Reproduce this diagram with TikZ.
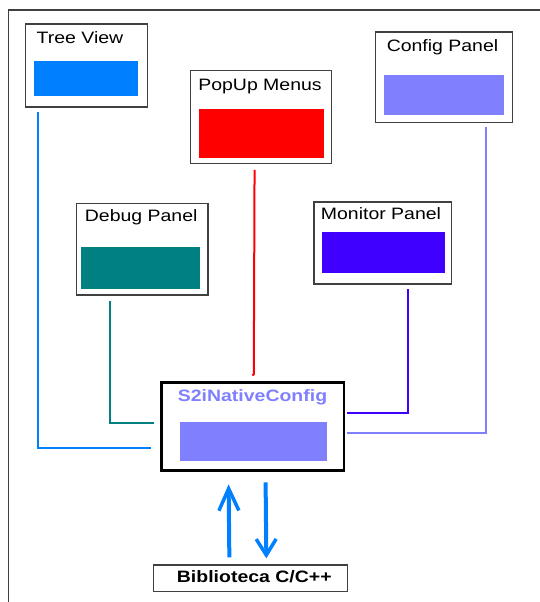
\documentclass[tikz,border=0pt]{standalone}
\usepackage{fontspec}
\setmainfont{Liberation Sans}
\usetikzlibrary{arrows.meta,calc}
\definecolor{treeblue}{HTML}{0080FF}
\definecolor{popred}{HTML}{FF0000}
\definecolor{cfgviolet}{HTML}{8080FF}
\definecolor{dbgteal}{HTML}{008080}
\definecolor{monindigo}{HTML}{4000FF}
\definecolor{frameGray}{HTML}{404040}
\newcommand{\wide}[1]{\scalebox{1.18}[1]{#1}}
\tikzset{
  panel/.style={draw=frameGray, line width=1.3pt, fill=white, inner sep=0pt},
  swatch/.style={inner sep=0pt, draw=none},
  caption/.style={anchor=base, inner sep=0pt, font=\fontsize{16.5}{18}\selectfont},
  wire/.style={line width=2pt},
  flow/.style={line width=4pt, color=treeblue},
}
\begin{document}
\begin{tikzpicture}[x=1pt,y=-1pt]
\useasboundingbox (0,0) rectangle (540,602);
\fill[white] (0,0) rectangle (540,602);
% open outer frame
\draw[frameGray, line width=1.5pt] (540,10) -- (8.3,10) -- (8.3,602);

% Tree View
\node[panel, minimum width=121.6pt, minimum height=83pt] (tree) at (86.6,65.5) {};
\node[caption] (treeT) at (80,43.3) {\wide{Tree View}};
\node[swatch, fill=treeblue, minimum width=103.6pt, minimum height=34.4pt] (treeS) at (86.2,78.5) {};

% PopUp Menus
\node[panel, minimum width=140.8pt, minimum height=93pt] (pop) at (261.2,116.8) {};
\node[caption] (popT) at (260,90.7) {\wide{PopUp Menus}};
\node[swatch, fill=popred, minimum width=125pt, minimum height=48.4pt] (popS) at (261.2,133.5) {};

% Config Panel
\node[panel, minimum width=136.7pt, minimum height=90.7pt] (cfg) at (444,77.3) {};
\node[caption] (cfgT) at (442.5,51.7) {\wide{Config Panel}};
\node[swatch, fill=cfgviolet, minimum width=119.5pt, minimum height=40pt] (cfgS) at (444,95.3) {};

% Debug Panel
\node[panel, minimum width=131.6pt, minimum height=91.7pt] (dbg) at (142.2,249.2) {};
\node[caption] (dbgT) at (141.2,221.7) {\wide{Debug Panel}};
\node[swatch, fill=dbgteal, minimum width=118.4pt, minimum height=42.3pt] (dbgS) at (140.5,268.2) {};

% Monitor Panel
\node[panel, minimum width=137.8pt, minimum height=82pt] (mon) at (382.9,243) {};
\node[caption] (monT) at (381,219.3) {\wide{Monitor Panel}};
\node[swatch, fill=monindigo, minimum width=122.6pt, minimum height=41.3pt] (monS) at (383.6,252.7) {};

% S2iNativeConfig core
\node[draw=black, line width=2.8pt, fill=white, inner sep=0pt, minimum width=182.2pt, minimum height=88.2pt] (core) at (252.9,426.6) {};
\node[caption, text=cfgviolet, font=\fontsize{16.5}{18}\selectfont\bfseries] (coreT) at (252.5,401) {\wide{S2iNativeConfig}};
\node[swatch, fill=cfgviolet, minimum width=147pt, minimum height=39pt] (coreS) at (253.6,441.2) {};

% Biblioteca
\node[draw=frameGray, line width=1.3pt, fill=white, inner sep=0pt, minimum width=194.6pt, minimum height=26.7pt] (lib) at (250.5,578.3) {};
\node[caption, font=\fontsize{16.5}{18}\selectfont\bfseries] (libT) at (254.3,582.3) {\wide{Biblioteca C/C++}};

% connectors into the core
\draw[wire, treeblue] ($(tree.south west)+(12.6,4)$) |- ($(core.west)+(-9.3,21.7)$);
\draw[wire, dbgteal] ($(dbg.south west)+(34.1,5)$) |- ($(core.west)+(-6.8,-3.3)$);
\draw[wire, popred] ($(pop.south west)+(64.4,6)$) -- ($(core.north west)+(93.4,-7)$) -- ++(-1.4,1.5);
\draw[wire, monindigo] ($(mon.south west)+(95.1,4.3)$) |- ($(core.east)+(2,-13.3)$);
\draw[wire, cfgviolet] ($(cfg.south west)+(110.9,3.3)$) |- ($(core.east)+(2,6.7)$);

% exchange with the C/C++ library
\draw[flow, -{Straight Barb[length=22pt,width=20pt,line width=3.5pt]}]
  ($(lib.north west)+(76.8,-7)$) -- ($(core.south west)+(68.2,12.3)$);
\draw[flow, -{Straight Barb[length=16pt,width=20pt,line width=3.5pt]}]
  ($(core.south west)+(105.2,10.3)$) -- ($(lib.north west)+(113.8,-6)$);
\end{tikzpicture}
\end{document}
